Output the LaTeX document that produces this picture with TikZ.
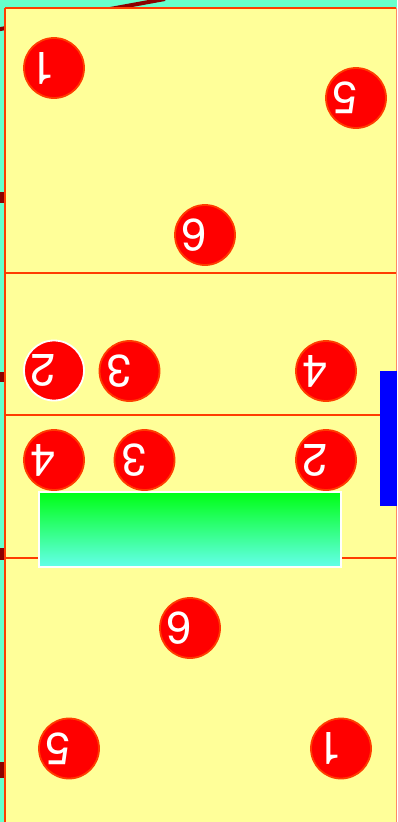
\documentclass[tikz,border=0pt]{standalone}
\usepackage{fontspec}
\setmainfont{Liberation Sans}
\newfontfamily\numfont{TeX Gyre Heros}
\definecolor{bgteal}{RGB}{102,255,204}
\definecolor{courtyellow}{RGB}{255,255,153}
\definecolor{courtline}{RGB}{255,60,0}
\definecolor{darkred}{RGB}{140,0,0}
\definecolor{ballred}{RGB}{255,0,0}
\definecolor{topgreen}{RGB}{0,255,20}
\definecolor{botaqua}{RGB}{100,255,235}
\tikzset{
  player/.style={circle, fill=ballred, draw=courtline, line width=1.8pt,
    minimum size=60pt, inner sep=0pt},
  whiteplayer/.style={player, draw=white},
  num/.style={text=white, rotate=180, inner sep=0pt,
    font=\numfont\fontsize{45}{45}\selectfont},
  courtln/.style={draw=courtline, line width=2pt},
}
\newcommand{\plr}[5]{%
  \node[#1] (#2) at (#3) {};
  \node[num] (#2n) at ([xshift=-11pt]#2.center) {#4};}
\begin{document}
\begin{tikzpicture}[x=1pt,y=-1pt]
\useasboundingbox (0,0) rectangle (397,822);
\clip (0,0) rectangle (397,822);
\fill[bgteal] (0,0) rectangle (397,822);
% dark red lines behind court
\draw[darkred, line width=4pt] (-5,30) -- (165,-1);
\fill[darkred] (0,192) rectangle (5,203);
\fill[darkred] (0,372) rectangle (5,382);
\fill[darkred] (0,548) rectangle (5,560);
\fill[darkred] (0,762) rectangle (5,778);
% court
\fill[courtyellow] (5,8) rectangle (396,840);
\draw[courtln] (5,8) -- (396,8);
\draw[courtln] (5,8) -- (5,840);
\draw[draw=courtline!60, line width=1pt] (396.5,8) -- (396.5,840);
\draw[courtln] (5,273) -- (396,273);
\draw[courtln] (5,415) -- (396,415);
\draw[courtln] (5,558) -- (396,558);
% gradient block
\shade[top color=topgreen, bottom color=botaqua, draw=white, line width=1.2pt] (39,492) rectangle (341,567);
% blue bar
\fill[blue] (380,371) rectangle (397,506);
% players
\plr{player}{a1}{54,68}{1}{}
\plr{player}{a5}{356,98}{5}{}
\plr{player}{a6}{205,235}{6}{}
\plr{whiteplayer}{a2}{54,370.5}{2}{}
\plr{player}{a3}{129.5,371}{3}{}
\plr{player}{a4}{326,371}{4}{}
\plr{player}{b4}{54,460}{4}{}
\plr{player}{b3}{144.5,460}{3}{}
\plr{player}{b2}{326,460}{2}{}
\plr{player}{b6}{190,628}{6}{}
\plr{player}{b5}{69,748.5}{5}{}
\plr{player}{b1}{341,748.5}{1}{}
\end{tikzpicture}
\end{document}
